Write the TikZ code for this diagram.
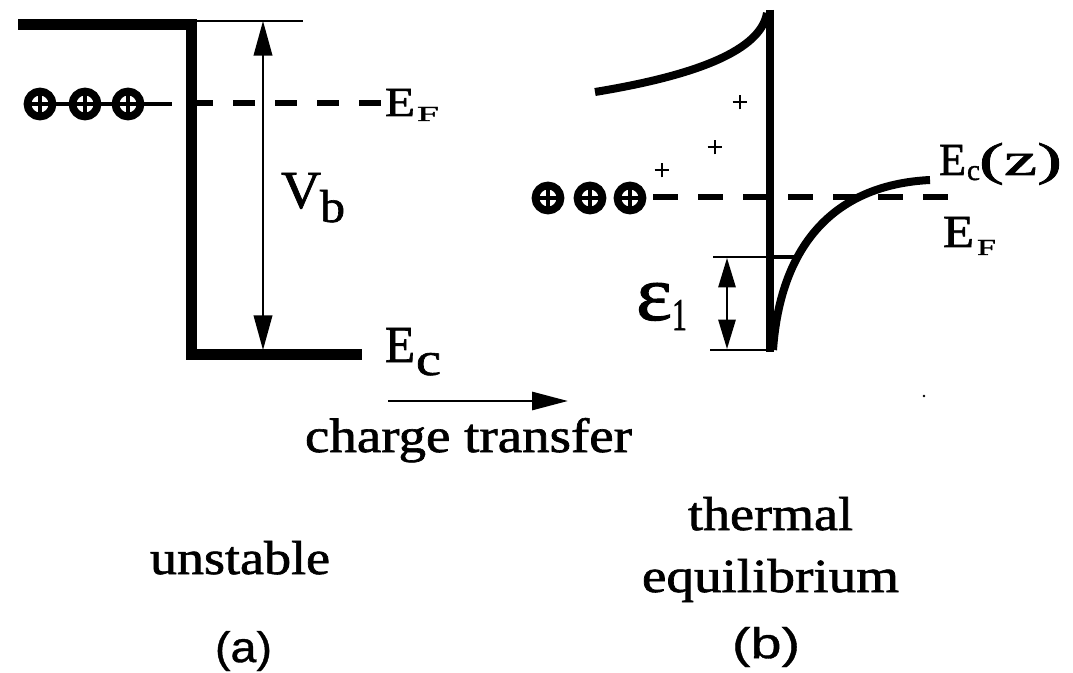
\documentclass[tikz,border=0pt]{standalone}
\usepackage{fontspec}
\setmainfont{Liberation Serif}[FakeBold=1.3]
\newfontfamily\sansf{Liberation Sans}[FakeBold=0.8]
\usepackage{graphicx}
\usetikzlibrary{arrows.meta}
\newdimen\upx \upx=0.75pt
\tikzset{
  band/.style={line width=8.25pt, line join=miter},
  rband/.style={line width=6pt},
  curveband/.style={line width=6pt},
  thinline/.style={line width=1.5pt},
  fermi/.style={line width=5pt},
  link/.style={line width=3.5pt},
  plussign/.style={line width=1.6pt},
  lbl/.style={inner sep=0pt, outer sep=0pt, anchor=base west},
  slbl/.style={inner sep=0pt, outer sep=0pt, anchor=south west},
  vbarrow/.style={line width=1.3pt, >={Triangle[length=26pt,width=14pt]}, <->},
  epsarrow/.style={line width=1.3pt, >={Triangle[length=22pt,width=13pt]}, <->},
  ctarrow/.style={line width=2.2pt, >={Triangle[length=27pt,width=13.5pt]}, ->},
}
\newcommand\opl[2]{%
  \draw[line width=5.8pt] (#1,#2) circle (9.4pt);
  \draw[line width=3.4pt] ([xshift=-9.4pt]#1,#2) -- ([xshift=9.4pt]#1,#2);
  \draw[line width=3.4pt] ([yshift=-9.4pt]#1,#2) -- ([yshift=9.4pt]#1,#2);}
\newcommand\plusat[2]{%
  \draw[plussign] ([xshift=-5.5pt]#1,#2) -- ([xshift=5.5pt]#1,#2);
  \draw[plussign] ([yshift=-5.5pt]#1,#2) -- ([yshift=5.5pt]#1,#2);}
\begin{document}
\begin{tikzpicture}[x=0.75pt,y=-0.75pt]
\useasboundingbox (0,0) rectangle (1073,673);

% ---------------- (a) ----------------
\draw[band] (18,24.5) -- (191,24.5) -- (191,354) -- (362,354);
\coordinate (refL) at (196,21);
\coordinate (refR) at (303,21);
\draw[thinline] (refL) -- (refR);
\coordinate (vbtop) at (263,21);
\coordinate (vbbot) at (263,350);
\draw[vbarrow] (vbtop) -- (vbbot);
\coordinate (efa1) at (191,103);
\coordinate (efa2) at (381,103);
\draw[fermi, dash pattern=on 16.5pt off 15pt] (efa1) -- (efa2);
\coordinate (ca1) at (40,104);
\coordinate (ca2) at (85,104);
\coordinate (ca3) at (128,104);
\coordinate (ca4) at (172,104);
\draw[link] (ca1) -- (ca2) -- (ca3) -- (ca4);
\opl{40}{104}\opl{85}{104}\opl{128}{104}

\node[lbl] (EFaE) at (385,116) {\resizebox{30\upx}{27\upx}{E}};
\node[lbl] (EFaF) at (417,121) {\resizebox{22\upx}{14\upx}{F}};
\node[lbl] (VbV) at (281,208) {\resizebox{40\upx}{35\upx}{V}};
\node[lbl] (Vbb) at (320,222) {\resizebox{25\upx}{32\upx}{b}};
\node[lbl] (EcaE) at (385,362) {\resizebox{30\upx}{34\upx}{E}};
\node[lbl] (Ecac) at (416,375) {\resizebox{25\upx}{22\upx}{c}};

% charge transfer
\coordinate (ct1) at (388,401);
\coordinate (ct2) at (568,401);
\draw[ctarrow] (ct1) -- (ct2);
\node[lbl] (ctext) at (305,452) {\resizebox{327\upx}{34\upx}{charge transfer}};

% ---------------- (b) ----------------
\coordinate (bt) at (770,10);
\coordinate (bb) at (770,352);
\draw[rband] (bt) -- (bb);
\draw[curveband] (595,92) .. controls (680,78) and (760,55) .. (767,13);
\draw[curveband] (773,350) .. controls (780,250) and (830,185) .. (930,180);
\coordinate (efb1) at (653,197);
\coordinate (efb2) at (948,197);
\draw[fermi, dash pattern=on 18.75pt off 15pt] (efb1) -- (efb2);
\opl{548}{198}\opl{590}{198}\opl{630}{198}
\plusat{740}{102}\plusat{715}{147}\plusat{662}{170}

\coordinate (e1a) at (713,257);
\coordinate (e1b) at (772,257);
\coordinate (e1c) at (795,257);
\draw[thinline] (e1a) -- (e1b);
\draw[line width=2.5pt] (e1b) -- (e1c);
\coordinate (e2a) at (710,350);
\coordinate (e2b) at (772,350);
\draw[thinline] (e2a) -- (e2b);
\coordinate (eptop) at (727,258);
\coordinate (epbot) at (727,349);
\draw[epsarrow] (eptop) -- (epbot);

\node[lbl] (epsl) at (636,320) {\resizebox{36\upx}{37\upx}{ε}};
\node[lbl] (epss) at (672,330) {\resizebox{15\upx}{30\upx}{1}};

\node[lbl] (EczE) at (939,175) {\resizebox{27\upx}{30\upx}{E}};
\node[lbl] (Eczc) at (967,180) {\resizebox{13\upx}{14\upx}{c}};
\node[lbl] (Eczz) at (979,175) {\resizebox{83\upx}{32\upx}{(z)}};
\node[lbl] (EFbE) at (943,247) {\resizebox{31\upx}{30\upx}{E}};
\node[lbl] (EFbF) at (977,255) {\resizebox{19\upx}{15\upx}{F}};

\fill (924,396) circle (1pt);

% ---------------- captions ----------------
\node[lbl] (unst) at (150,574) {\resizebox{180\upx}{33\upx}{unstable}};
\node[lbl] (therm) at (688,530) {\resizebox{165\upx}{33\upx}{thermal}};
\node[lbl] (equil) at (642,592) {\resizebox{257\upx}{33\upx}{equilibrium}};
\node[slbl] (capa) at (215,671) {\resizebox*{57\upx}{40\upx}{\sansf (a)}};
\node[slbl] (capb) at (732,667) {\resizebox*{68\upx}{40\upx}{\sansf (b)}};
\end{tikzpicture}
\end{document}
